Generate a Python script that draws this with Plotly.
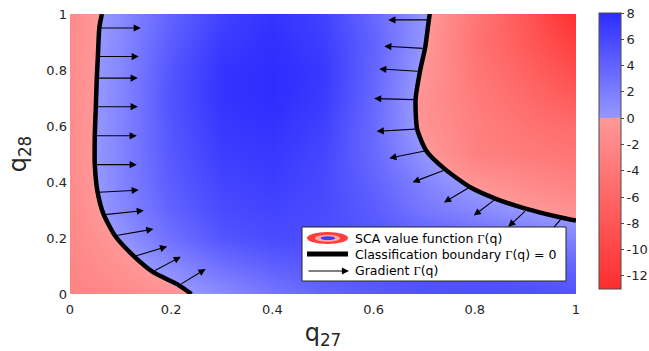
import plotly.graph_objects as go

# ---------------- data ----------------
q27 = [0.0, 0.1, 0.2, 0.3, 0.4, 0.5, 0.6, 0.7, 0.8, 0.9, 1.0]
q28 = [0.0, 0.1, 0.2, 0.3, 0.4, 0.5, 0.6, 0.7, 0.8, 0.9, 1.0]

gamma_y00 = [-2.5, -1.7, -0.6, 0.9, 2.5, 3.8, 4.6, 5.2, 5.5, 5.5, 5.2]
gamma_y01 = [-2.3, -0.8, 1.0, 3.0, 4.2, 5.0, 5.3, 5.3, 5.2, 4.5, 3.8]
gamma_y02 = [-2.0, 0.2, 3.0, 5.0, 5.8, 5.6, 5.0, 4.2, 3.5, 2.5, 1.5]
gamma_y03 = [-1.8, 1.2, 4.0, 5.8, 6.3, 5.8, 4.5, 2.5, 1.2, 0.1, -0.9]
gamma_y04 = [-1.6, 1.5, 4.5, 6.3, 6.8, 6.0, 4.0, 1.5, -0.5, -1.8, -2.8]
gamma_y05 = [-1.5, 1.6, 4.8, 6.8, 7.2, 6.2, 3.5, 0.25, -2.9, -3.5, -4.3]
gamma_y06 = [-1.5, 1.5, 5.0, 7.2, 7.6, 6.6, 3.4, -0.65, -3.0, -4.5, -5.5]
gamma_y07 = [-1.5, 1.4, 5.2, 7.5, 8.0, 7.0, 3.6, -0.8, -3.5, -5.5, -7.5]
gamma_y08 = [-1.5, 1.3, 5.0, 7.5, 8.0, 7.2, 3.8, -0.33, -4.0, -6.5, -9.3]
gamma_y09 = [-1.5, 1.2, 4.5, 7.0, 7.8, 6.8, 4.0, 0.15, -4.5, -7.5, -11.0]
gamma_y10 = [-1.7, 1.0, 4.0, 6.5, 7.5, 6.5, 3.5, 0.3, -4.0, -8.0, -13.0]

left_bnd_q27 = [0.063, 0.058, 0.055, 0.053, 0.051, 0.049, 0.049, 0.054, 0.066, 0.089, 0.125, 0.165, 0.211, 0.240]
left_bnd_q28 = [1.0, 0.952, 0.845, 0.774, 0.667, 0.565, 0.464, 0.369, 0.286, 0.208, 0.137, 0.077, 0.036, 0.0]

right_bnd_q27 = [0.711, 0.709, 0.702, 0.692, 0.683, 0.686, 0.704, 0.741, 0.791, 0.843, 0.902, 0.968, 1.0]
right_bnd_q28 = [1.0, 0.976, 0.881, 0.798, 0.696, 0.589, 0.512, 0.446, 0.381, 0.339, 0.304, 0.274, 0.262]

grad_start_q27 = [0.058, 0.055, 0.053, 0.051, 0.049, 0.049, 0.054, 0.066, 0.089, 0.125, 0.165, 0.217,
                  0.710, 0.700, 0.690, 0.683, 0.685, 0.704, 0.741, 0.791, 0.843, 0.902]
grad_start_q28 = [0.950, 0.848, 0.771, 0.669, 0.565, 0.462, 0.363, 0.283, 0.208, 0.133, 0.081, 0.033,
                  0.979, 0.877, 0.795, 0.694, 0.589, 0.512, 0.443, 0.383, 0.342, 0.300]
grad_end_q27 = [0.140, 0.136, 0.134, 0.134, 0.132, 0.132, 0.136, 0.146, 0.165, 0.192, 0.219, 0.268,
                0.629, 0.621, 0.611, 0.601, 0.606, 0.631, 0.677, 0.739, 0.798, 0.866]
grad_end_q28 = [0.950, 0.848, 0.771, 0.669, 0.565, 0.462, 0.371, 0.298, 0.232, 0.170, 0.133, 0.089,
                0.979, 0.885, 0.804, 0.698, 0.581, 0.485, 0.399, 0.327, 0.280, 0.240]
# arrow partly hidden behind the legend box
hidden_start = [0.972, 0.271]
hidden_end = [0.957, 0.240]

tick_vals = [0, 0.2, 0.4, 0.6, 0.8, 1]
tick_text = ["0", "0.2", "0.4", "0.6", "0.8", "1"]
cbar_vals = [8, 6, 4, 2, 0, -2, -4, -6, -8, -10, -12]
cbar_text = ["8", "6", "4", "2", "0", "-2", "-4", "-6", "-8", "-10", "-12"]
zmin, zmax = -13, 8

legend_labels = ["SCA value function <span style=\"font-family:'Liberation Serif'\">Γ</span>(q)",
                 "Classification boundary <span style=\"font-family:'Liberation Serif'\">Γ</span>(q) = 0",
                 "Gradient <span style=\"font-family:'Liberation Serif'\">Γ</span>(q)"]

# ---------------- figure ----------------
gamma = [gamma_y00, gamma_y01, gamma_y02, gamma_y03, gamma_y04, gamma_y05,
         gamma_y06, gamma_y07, gamma_y08, gamma_y09, gamma_y10]

p0 = (0 - zmin) / (zmax - zmin)
colorscale = [[0.0, "rgb(255,45,45)"], [p0, "rgb(255,152,152)"],
              [p0, "rgb(150,152,255)"], [1.0, "rgb(45,45,255)"]]

FONT = "DejaVu Sans"
TXT = "#262626"

fig = go.Figure()
fig.add_trace(go.Heatmap(
    x=q27, y=q28, z=gamma, zmin=zmin, zmax=zmax, zsmooth="best",
    colorscale=colorscale, hoverinfo="skip",
    colorbar=dict(
        x=(599 - 70) / 506, xanchor="left", xpad=0, ypad=0,
        y=(294 - 13) / 280, yanchor="top", len=276 / 280, lenmode="fraction",
        thickness=22, outlinewidth=1, outlinecolor="#4d4d4d",
        tickvals=cbar_vals, ticktext=cbar_text, ticks="outside", ticklen=3,
        tickcolor="#4d4d4d", tickfont=dict(family=FONT, size=13, color=TXT)),
))

for bx, by in [(left_bnd_q27, left_bnd_q28), (right_bnd_q27, right_bnd_q28)]:
    fig.add_trace(go.Scatter(x=bx, y=by, mode="lines",
                             line=dict(color="black", width=4.5, shape="spline", smoothing=0.6),
                             hoverinfo="skip", showlegend=False))

annotations = []
for sx, sy, ex, ey in zip(grad_start_q27, grad_start_q28, grad_end_q27, grad_end_q28):
    annotations.append(dict(x=ex, y=ey, ax=sx, ay=sy, xref="x", yref="y", axref="x", ayref="y",
                            text="", showarrow=True, arrowhead=2, arrowsize=1.3,
                            arrowwidth=1.1, arrowcolor="black"))
annotations.append(dict(x=hidden_end[0], y=hidden_end[1], ax=hidden_start[0], ay=hidden_start[1],
                        xref="x", yref="y", axref="x", ayref="y", text="", showarrow=True,
                        arrowhead=0, arrowwidth=1.1, arrowcolor="black"))

# manual legend (positions in plot-domain fractions)
def px2x(px):
    return (px - 70) / 506

def py2y(py):
    return (294 - py) / 280

shapes = [
    dict(type="rect", xref="paper", yref="paper", x0=px2x(302), x1=px2x(566), y0=py2y(281), y1=py2y(227),
         fillcolor="white", line=dict(color="#262626", width=1), layer="above"),
    dict(type="circle", xref="paper", yref="paper", x0=px2x(307), x1=px2x(348), y0=py2y(244), y1=py2y(232),
         fillcolor="rgb(255,60,60)", line=dict(width=0), layer="above"),
    dict(type="circle", xref="paper", yref="paper", x0=px2x(315), x1=px2x(340), y0=py2y(241.7), y1=py2y(234.7),
         fillcolor="rgb(255,165,165)", line=dict(width=0), layer="above"),
    dict(type="circle", xref="paper", yref="paper", x0=px2x(320.7), x1=px2x(335), y0=py2y(240), y1=py2y(236.3),
         fillcolor="rgb(60,60,255)", line=dict(width=0), layer="above"),
    dict(type="line", xref="paper", yref="paper", x0=px2x(307), x1=px2x(348), y0=py2y(254), y1=py2y(254),
         line=dict(color="black", width=5), layer="above"),
]
annotations.append(dict(x=px2x(349), y=py2y(271), ax=px2x(307), ay=py2y(271),
                        xref="x domain", yref="y domain", axref="x domain", ayref="y domain",
                        text="", showarrow=True, arrowhead=2,
                        arrowsize=1.3, arrowwidth=1.1, arrowcolor="black"))
for lbl, py in zip(legend_labels, [238, 254, 270.7]):
    annotations.append(dict(x=px2x(353), y=py2y(py), xref="paper", yref="paper", text=lbl,
                            showarrow=False, xanchor="left", yanchor="middle",
                            font=dict(family=FONT, size=12.5, color="black")))

fig.update_layout(
    width=649, height=351,
    margin=dict(l=70, r=73, t=14, b=57, autoexpand=False),
    paper_bgcolor="white", plot_bgcolor="white",
    font=dict(family=FONT, color=TXT),
    xaxis=dict(range=[0, 1], tickvals=tick_vals, ticktext=tick_text, ticks="", showgrid=False,
               zeroline=False, showline=False, automargin=False, tickfont=dict(size=13, color=TXT),
               ticklabelstandoff=6,
               title=dict(text="q<sub>27</sub>", font=dict(size=24, color=TXT), standoff=8)),
    yaxis=dict(range=[0, 1], tickvals=tick_vals, ticktext=tick_text, ticks="", showgrid=False,
               zeroline=False, showline=False, automargin=False, tickfont=dict(size=13, color=TXT),
               ticklabelstandoff=2,
               title=dict(text="q<sub>28</sub>", font=dict(size=24, color=TXT), standoff=12)),
    shapes=shapes, annotations=annotations, showlegend=False,
)

fig.write_html("out.html", config={"displayModeBar": False},
               post_script="document.body.style.margin='0';document.body.style.overflow='hidden';")
